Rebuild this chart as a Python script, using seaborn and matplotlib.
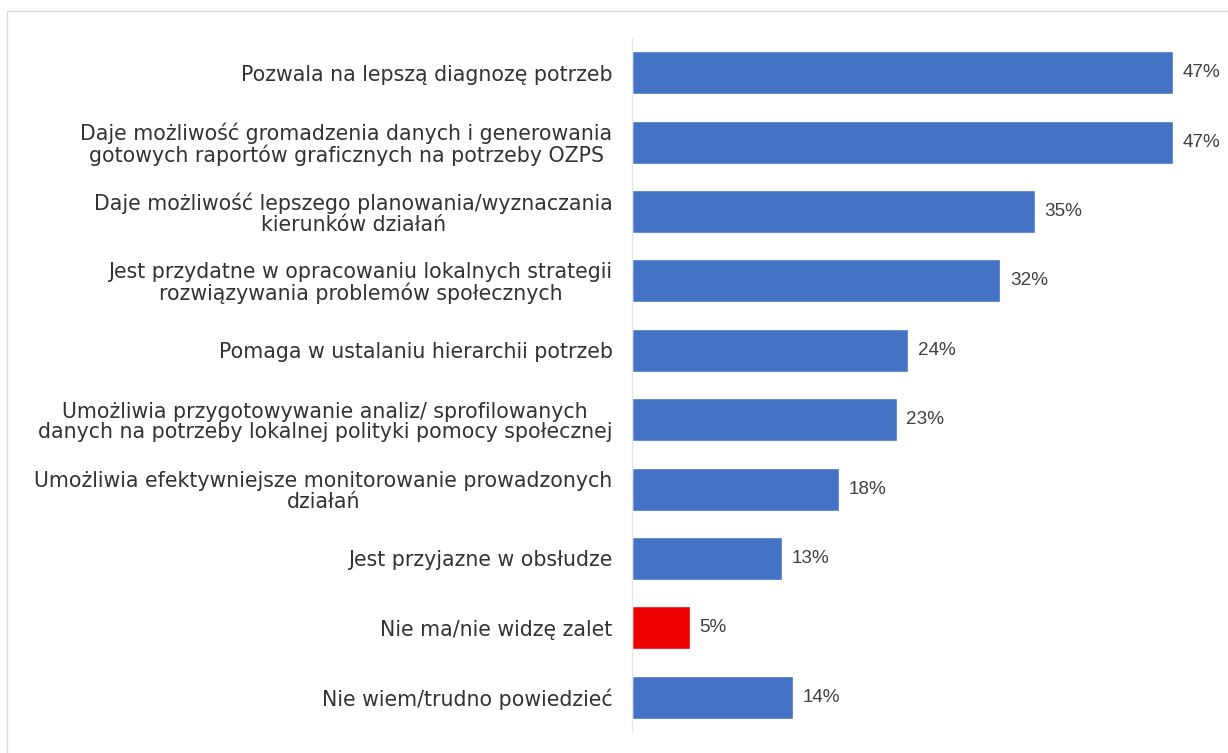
import matplotlib
matplotlib.use("Agg")
import matplotlib.pyplot as plt
from matplotlib.patches import Rectangle
import seaborn as sns
import pandas as pd

categories = [
    "Pozwala na lepszą diagnozę potrzeb",
    "Daje możliwość gromadzenia danych i generowania\ngotowych raportów graficznych na potrzeby OZPS",
    "Daje możliwość lepszego planowania/wyznaczania\nkierunków działań",
    "Jest przydatne w opracowaniu lokalnych strategii\nrozwiązywania problemów społecznych",
    "Pomaga w ustalaniu hierarchii potrzeb",
    "Umożliwia przygotowywanie analiz/ sprofilowanych\ndanych na potrzeby lokalnej polityki pomocy społecznej",
    "Umożliwia efektywniejsze monitorowanie prowadzonych\ndziałań",
    "Jest przyjazne w obsłudze",
    "Nie ma/nie widzę zalet",
    "Nie wiem/trudno powiedzieć",
]
values = [47, 47, 35, 32, 24, 23, 18, 13, 5, 14]
labels = ["47%", "47%", "35%", "32%", "24%", "23%", "18%", "13%", "5%", "14%"]
groups = ["pos", "pos", "pos", "pos", "pos", "pos", "pos", "pos", "neg", "pos"]

palette = {"pos": "#4472C4", "neg": "#EE0000"}

df = pd.DataFrame({"cat": categories, "val": values, "grp": groups})

sns.set_theme(style="white")
plt.rcParams["font.family"] = ["DejaVu Sans"]

fig = plt.figure(figsize=(12.28, 7.53), dpi=100)
fig.patches.append(Rectangle((7 / 1228, -0.1), 1.2, 1 - 11 / 753 + 0.1,
                             transform=fig.transFigure, fill=False,
                             edgecolor="#d9d9d9", linewidth=1.0))

ax = fig.add_axes([632 / 1228, 1 - 732 / 753, 1 - 632 / 1228, (732 - 38) / 753])
sns.barplot(data=df, y="cat", x="val", hue="grp", palette=palette,
            orient="h", width=0.62, dodge=False, legend=False, ax=ax,
            saturation=1)

ax.set_xlim(0, 51.8)
ax.set_ylim(9.5, -0.5)
ax.set_xlabel("")
ax.set_ylabel("")
ax.set_xticks([])
for s in ["top", "right", "bottom"]:
    ax.spines[s].set_visible(False)
ax.spines["left"].set_color("#e6e6e6")
ax.spines["left"].set_linewidth(1.0)
ax.tick_params(axis="y", length=0, pad=14)
ax.set_yticks(range(len(categories)))
ax.set_yticklabels(categories, fontsize=14.8, color="#333333",
                   ha="right", multialignment="center", linespacing=1.03)

for i, (v, lab) in enumerate(zip(values, labels)):
    ax.text(v + 0.85, i, lab, va="center", ha="left",
            fontsize=13.6, color="#404040", family="Liberation Sans")

fig.savefig("out.png", dpi=100)
